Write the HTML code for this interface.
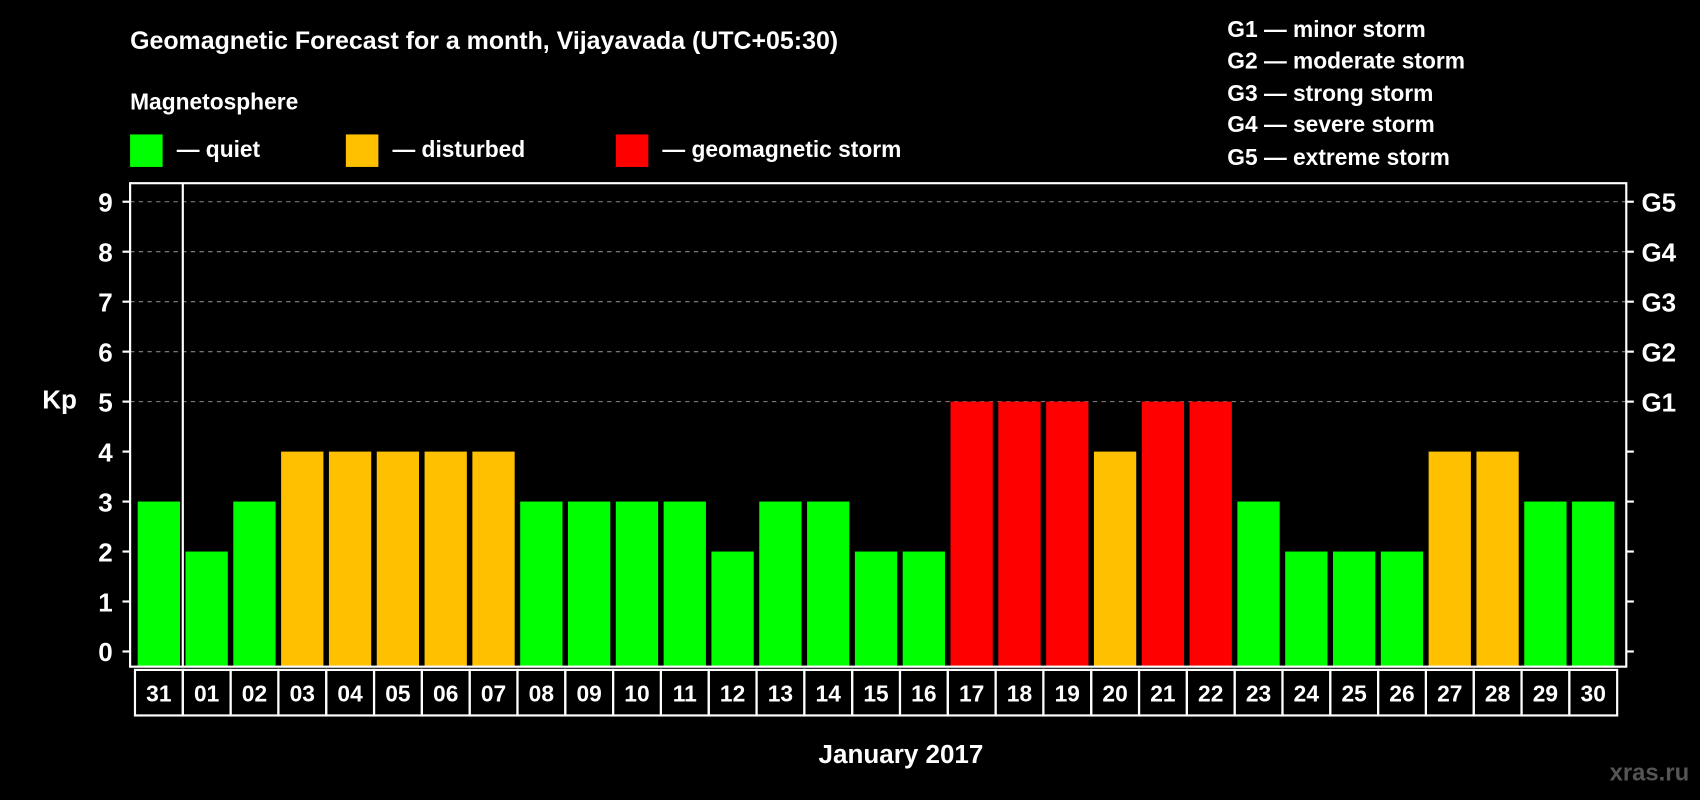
<!DOCTYPE html>
<html><head><meta charset="utf-8"><style>
html,body{margin:0;padding:0;background:#000;}
svg{display:block;font-family:"Liberation Sans",Arial,sans-serif;font-weight:bold;}
</style></head><body>
<svg id="chart" xmlns="http://www.w3.org/2000/svg" width="1700" height="800" viewBox="0 0 1568 738" preserveAspectRatio="none">
<rect x="0" y="0" width="1568" height="738" fill="#000"/>
<text x="120" y="45" fill="#fff" font-size="23">Geomagnetic Forecast for a month, Vijayavada (UTC+05:30)</text>
<text x="120" y="101" fill="#fff" font-size="21">Magnetosphere</text>
<g>
<rect x="120" y="124" width="30" height="30" fill="#00ff00"/>
<text x="163" y="145" fill="#fff" font-size="21">— quiet</text>
<rect x="319" y="124" width="30" height="30" fill="#ffc000"/>
<text x="362" y="145" fill="#fff" font-size="21">— disturbed</text>
<rect x="568" y="124" width="30" height="30" fill="#ff0000"/>
<text x="611" y="145" fill="#fff" font-size="21">— geomagnetic storm</text>
</g>
<g fill="#fff" font-size="21">
<text x="1132" y="34">G1 — minor storm</text>
<text x="1132" y="63">G2 — moderate storm</text>
<text x="1132" y="93">G3 — strong storm</text>
<text x="1132" y="122">G4 — severe storm</text>
<text x="1132" y="152">G5 — extreme storm</text>
</g>
<text x="39" y="377" fill="#fff" font-size="24">Kp</text>
<text x="831" y="704" fill="#fff" font-size="24" text-anchor="middle">January 2017</text>
<text x="1558" y="720" fill="#555" font-size="22" text-anchor="end">xras.ru</text>
<g id="grid"></g><g id="bars"></g><g id="axes"></g><g id="labels"></g>
</svg>
<script>
const days = ["31","01","02","03","04","05","06","07","08","09","10","11","12","13","14","15","16","17","18","19","20","21","22","23","24","25","26","27","28","29","30"];
const kpValues = [3,2,3,4,4,4,4,4,3,3,3,3,2,3,3,2,2,5,5,5,4,5,5,3,2,2,2,4,4,3,3];
const yTicks = [0,1,2,3,4,5,6,7,8,9];
const gLabels = ["G1","G2","G3","G4","G5"];
const NS="http://www.w3.org/2000/svg";
const L=120,R=1500,T=169,B=615,X0=127,PITCH=44.1,BW=39;
const y=v=>601-v*46.1;
const x=i=>X0+i*PITCH;
function mk(tag,attrs,parent){const e=document.createElementNS(NS,tag);for(const k in attrs)e.setAttribute(k,attrs[k]);parent.appendChild(e);return e;}
const grid=document.getElementById('grid'),bars=document.getElementById('bars'),axes=document.getElementById('axes'),labels=document.getElementById('labels');
yTicks.forEach(t=>{
  if(t>=5){const g=mk('line',{x1:L,x2:R,y1:y(t),y2:y(t),stroke:'#888','stroke-dasharray':'4,4','stroke-width':1},grid);
  
  }
  const tl=mk('line',{x1:L-7,x2:L,y1:y(t),y2:y(t),stroke:'#fff','stroke-width':2},axes);
  
  
  const tr=mk('line',{x1:R,x2:R+7,y1:y(t),y2:y(t),stroke:'#fff','stroke-width':2},axes);
  
  
  const tx=mk('text',{x:104,y:y(t)+9,fill:'#fff','font-size':24,'text-anchor':'end'},axes);
  tx.textContent=t;
  
  
});
gLabels.forEach((g,i)=>{
  const t=mk('text',{x:1514,y:y(5+i)+9,fill:'#fff','font-size':24},axes);
  t.textContent=g;
  
  
});
kpValues.forEach((v,i)=>{
  const c=v>=5?'#ff0000':(v>=4?'#ffc000':'#00ff00');
  const b=mk('rect',{x:x(i),y:y(v),width:BW,height:B-y(v),fill:c},bars);
  
  
});
const fr=mk('rect',{x:L,y:T,width:R-L,height:B-T,fill:'none',stroke:'#fff','stroke-width':2},axes);


const ml=mk('line',{x1:x(1)-2.5,x2:x(1)-2.5,y1:T,y2:B,stroke:'#fff','stroke-width':2},axes);


days.forEach((d,i)=>{
  const bx=mk('rect',{x:x(i)-2.5,y:618,width:PITCH,height:42,fill:'none',stroke:'#fff','stroke-width':2},labels);
  
  
  const t=mk('text',{x:x(i)+BW/2,y:647,fill:'#fff','font-size':21,'text-anchor':'middle'},labels);
  t.textContent=d;
  
  
});
</script>
</body></html>
